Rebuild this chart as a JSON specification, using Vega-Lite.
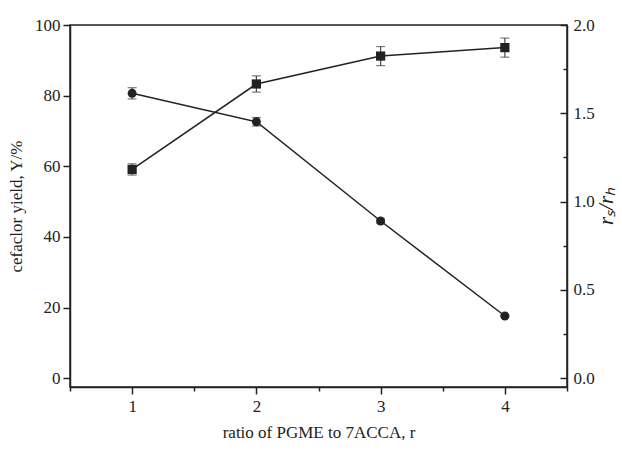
{
  "$schema": "https://vega.github.io/schema/vega-lite/v6.json",
  "autosize": {"type": "none"},
  "padding": {"left": 70, "top": 25, "right": 55, "bottom": 64},
  "width": 497,
  "height": 362,
  "background": "white",
  "config": {
    "view": {"stroke": "#222", "strokeWidth": 1.5},
    "font": "Liberation Serif",
    "axis": {
      "labelFont": "Liberation Serif",
      "titleFont": "Liberation Serif",
      "labelFontSize": 17,
      "titleFontSize": 17,
      "titleFontWeight": "normal",
      "labelColor": "#222",
      "titleColor": "#222",
      "domainColor": "#222",
      "tickColor": "#222",
      "domainWidth": 1.5,
      "tickWidth": 1.5,
      "grid": false
    }
  },
  "data": {
    "values": [
      {"r": 1, "yield": 59.1, "ylo": 57.5, "yhi": 60.7, "ratio": 1.613, "rlo": 1.581, "rhi": 1.645},
      {"r": 2, "yield": 83.3, "ylo": 81.0, "yhi": 85.6, "ratio": 1.452, "rlo": 1.428, "rhi": 1.476},
      {"r": 3, "yield": 91.2, "ylo": 88.5, "yhi": 93.9, "ratio": 0.89, "rlo": 0.878, "rhi": 0.902},
      {"r": 4, "yield": 93.6, "ylo": 90.9, "yhi": 96.3, "ratio": 0.352, "rlo": 0.347, "rhi": 0.357}
    ]
  },
  "encoding": {
    "x": {
      "field": "r", "type": "quantitative",
      "scale": {"domain": [0.5, 4.5], "nice": false, "zero": false},
      "axis": {
        "title": "ratio of PGME to 7ACCA, r",
        "values": [0.5, 1, 1.5, 2, 2.5, 3, 3.5, 4, 4.5],
        "labelExpr": "datum.value % 1 === 0 ? format(datum.value, 'd') : ''",
        "tickSize": {"condition": {"test": "datum.value % 1 !== 0", "value": 4}, "value": 7},
        "labelPadding": 4,
        "titlePadding": 10
      }
    }
  },
  "layer": [
    {
      "layer": [
        {
          "mark": {"type": "rule", "color": "#444", "strokeWidth": 1.2},
          "encoding": {"y": {"field": "ylo", "type": "quantitative"}, "y2": {"field": "yhi"}}
        },
        {
          "mark": {"type": "tick", "color": "#444", "size": 9, "thickness": 1.2, "orient": "horizontal"},
          "encoding": {"y": {"field": "ylo", "type": "quantitative"}}
        },
        {
          "mark": {"type": "tick", "color": "#444", "size": 9, "thickness": 1.2, "orient": "horizontal"},
          "encoding": {"y": {"field": "yhi", "type": "quantitative"}}
        },
        {
          "mark": {"type": "line", "color": "#222", "strokeWidth": 1.5, "point": {"shape": "square", "size": 85, "filled": true, "color": "#222", "opacity": 1}},
          "encoding": {
            "y": {
              "field": "yield", "type": "quantitative",
              "scale": {"domain": [-2.5, 100], "nice": false, "zero": false},
              "axis": {
                "title": "cefaclor yield, Y/%",
                "orient": "left",
                "values": [0, 10, 20, 30, 40, 50, 60, 70, 80, 90, 100],
                "labelExpr": "datum.value % 20 === 0 ? datum.label : ''",
                "tickSize": {"condition": {"test": "datum.value % 20 !== 0", "value": 4}, "value": 7},
                "labelPadding": 3,
                "titlePadding": 9
              }
            }
          }
        }
      ]
    },
    {
      "layer": [
        {
          "mark": {"type": "rule", "color": "#444", "strokeWidth": 1.2},
          "encoding": {"y": {"field": "rlo", "type": "quantitative"}, "y2": {"field": "rhi"}}
        },
        {
          "mark": {"type": "tick", "color": "#444", "size": 9, "thickness": 1.2, "orient": "horizontal"},
          "encoding": {"y": {"field": "rlo", "type": "quantitative"}}
        },
        {
          "mark": {"type": "tick", "color": "#444", "size": 9, "thickness": 1.2, "orient": "horizontal"},
          "encoding": {"y": {"field": "rhi", "type": "quantitative"}}
        },
        {
          "mark": {"type": "line", "color": "#222", "strokeWidth": 1.5, "point": {"shape": "circle", "size": 80, "filled": true, "color": "#222", "opacity": 1}},
          "encoding": {
            "y": {
              "field": "ratio", "type": "quantitative",
              "scale": {"domain": [-0.05, 2.0], "nice": false, "zero": false},
              "axis": {
                "title": "rₛ/rₕ",
                "orient": "right",
                "titleFontStyle": "italic",
                "titleFontSize": 21,
                "titleAngle": 270,
                "values": [0, 0.25, 0.5, 0.75, 1, 1.25, 1.5, 1.75, 2],
                "labelExpr": "datum.value % 0.5 === 0 ? format(datum.value, '.1f') : ''",
                "tickSize": {"condition": {"test": "datum.value % 0.5 !== 0", "value": -4}, "value": -7},
                "labelPadding": 13,
                "titlePadding": 22
              }
            }
          }
        }
      ],
      "resolve": {"scale": {"y": "shared"}}
    }
  ],
  "resolve": {"scale": {"y": "independent"}}
}
